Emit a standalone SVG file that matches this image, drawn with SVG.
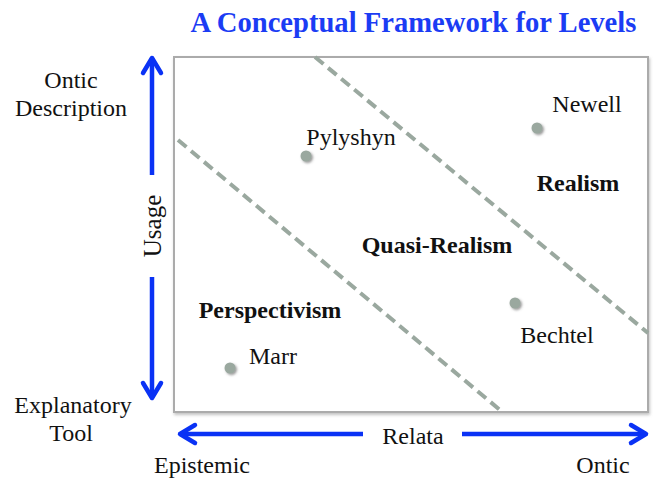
<svg xmlns="http://www.w3.org/2000/svg" width="654" height="481" viewBox="0 0 654 481">
<style>
.t{font-family:"Liberation Serif","Times New Roman",serif;font-size:24px;fill:#111}
.b{font-weight:bold}
.title{font-family:"Liberation Serif","Times New Roman",serif;font-size:28.6px;font-weight:bold;fill:#1b3cf4}
.arrow{stroke:#0a32f5;stroke-width:4.5;fill:none}
.dash{stroke:#9aa89f;stroke-width:4;stroke-dasharray:11 6;fill:none}
.dot{fill:#9aa89f;filter:url(#sh)}
</style>
<defs>
<marker id="ah" markerUnits="userSpaceOnUse" viewBox="-22 -14 26 28" refX="0" refY="0" markerWidth="26" markerHeight="28" orient="auto-start-reverse">
<path d="M -15 -9 L 0 0 L -15 9" stroke="#0a32f5" stroke-width="4.5" fill="none" stroke-linejoin="round" stroke-linecap="round"/>
</marker>
<filter id="sh" x="-50%" y="-50%" width="200%" height="200%">
<feDropShadow dx="1.5" dy="1.5" stdDeviation="1" flood-color="#555" flood-opacity="0.6"/>
</filter>
<filter id="bsh" x="-5%" y="-5%" width="110%" height="110%">
<feDropShadow dx="1" dy="2" stdDeviation="1.5" flood-color="#888" flood-opacity="0.5"/>
</filter>
</defs>
<rect width="654" height="481" fill="#fff"/>
<g id="title"><text class="title" x="413.5" y="32" text-anchor="middle">A Conceptual Framework for Levels</text></g>
<g id="frame"><rect x="174" y="57" width="474" height="355" fill="#fff" stroke="#ababab" stroke-width="2" filter="url(#bsh)"/></g>
<g id="connectors">
<line class="dash" x1="315" y1="57" x2="648" y2="333"/>
<line class="dash" x1="178" y1="140" x2="500" y2="410"/>
<line class="arrow" x1="152" y1="175" x2="152" y2="58" marker-end="url(#ah)"/>
<line class="arrow" x1="152" y1="277" x2="152" y2="398" marker-end="url(#ah)"/>
<line class="arrow" x1="363" y1="434" x2="180" y2="434" marker-end="url(#ah)"/>
<line class="arrow" x1="462" y1="434" x2="646" y2="434" marker-end="url(#ah)"/>
</g>
<g id="axis-labels">
<text class="t" x="71" y="88" text-anchor="middle">Ontic</text>
<text class="t" x="71" y="116" text-anchor="middle">Description</text>
<text class="t" x="73" y="413" text-anchor="middle">Explanatory</text>
<text class="t" x="71" y="441" text-anchor="middle">Tool</text>
<text class="t" x="0" y="0" text-anchor="middle" transform="translate(161 226) rotate(-90)" style="font-size:25px">Usage</text>
<text class="t" x="413" y="444" text-anchor="middle">Relata</text>
<text class="t" x="202" y="473" text-anchor="middle">Epistemic</text>
<text class="t" x="603" y="473" text-anchor="middle">Ontic</text>
</g>
<g id="region-realism"><text class="t b" x="578" y="191" text-anchor="middle">Realism</text></g>
<g id="region-quasi-realism"><text class="t b" x="437" y="253" text-anchor="middle">Quasi-Realism</text></g>
<g id="region-perspectivism"><text class="t b" x="270" y="318" text-anchor="middle">Perspectivism</text></g>
<g id="newell"><circle class="dot" cx="537" cy="128" r="5.5"/><text class="t" x="587" y="112" text-anchor="middle">Newell</text></g>
<g id="pylyshyn"><circle class="dot" cx="306" cy="156" r="5.5"/><text class="t" x="351" y="145" text-anchor="middle">Pylyshyn</text></g>
<g id="bechtel"><circle class="dot" cx="515" cy="303" r="5.5"/><text class="t" x="557" y="343" text-anchor="middle">Bechtel</text></g>
<g id="marr"><circle class="dot" cx="230" cy="368" r="5.5"/><text class="t" x="273" y="364" text-anchor="middle">Marr</text></g>
</svg>
